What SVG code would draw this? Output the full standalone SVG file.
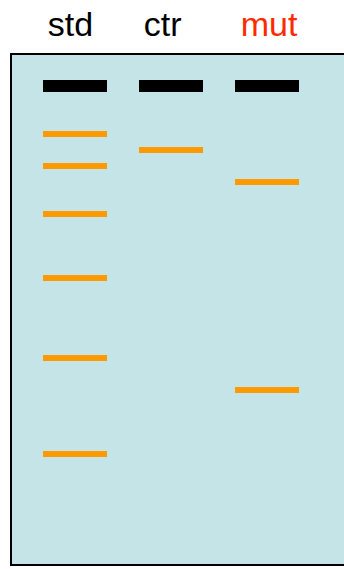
<svg xmlns="http://www.w3.org/2000/svg" width="344" height="569" viewBox="0 0 344 569">
<style>
.lbl{font-family:"Liberation Sans",Arial,sans-serif;font-size:34px;text-anchor:middle}
.well{fill:#000}
.band{fill:#FF9900}
</style>
<rect width="344" height="569" fill="#fff"/>
<g id="gel"><rect x="11" y="54" width="340" height="511" fill="#C4E4E7" stroke="#000" stroke-width="2"/></g>
<g id="labels">
<text class="lbl" x="70.5" y="36" fill="#000">std</text>
<text class="lbl" x="162.7" y="36" fill="#000">ctr</text>
<text class="lbl" x="269" y="36" fill="#FF2A00">mut</text>
</g>
<g id="wells">
<rect class="well" x="43" y="80" width="64" height="12"/>
<rect class="well" x="139" y="80" width="64" height="12"/>
<rect class="well" x="235" y="80" width="64" height="12"/>
</g>
<g id="std">
<rect class="band" x="43" y="131" width="64" height="6"/>
<rect class="band" x="43" y="163" width="64" height="6"/>
<rect class="band" x="43" y="211" width="64" height="6"/>
<rect class="band" x="43" y="275" width="64" height="6"/>
<rect class="band" x="43" y="355" width="64" height="6"/>
<rect class="band" x="43" y="451" width="64" height="6"/>
</g>
<g id="ctr"><rect class="band" x="139" y="147" width="64" height="6"/></g>
<g id="mut">
<rect class="band" x="235" y="179" width="64" height="6"/>
<rect class="band" x="235" y="387" width="64" height="6"/>
</g>
</svg>
